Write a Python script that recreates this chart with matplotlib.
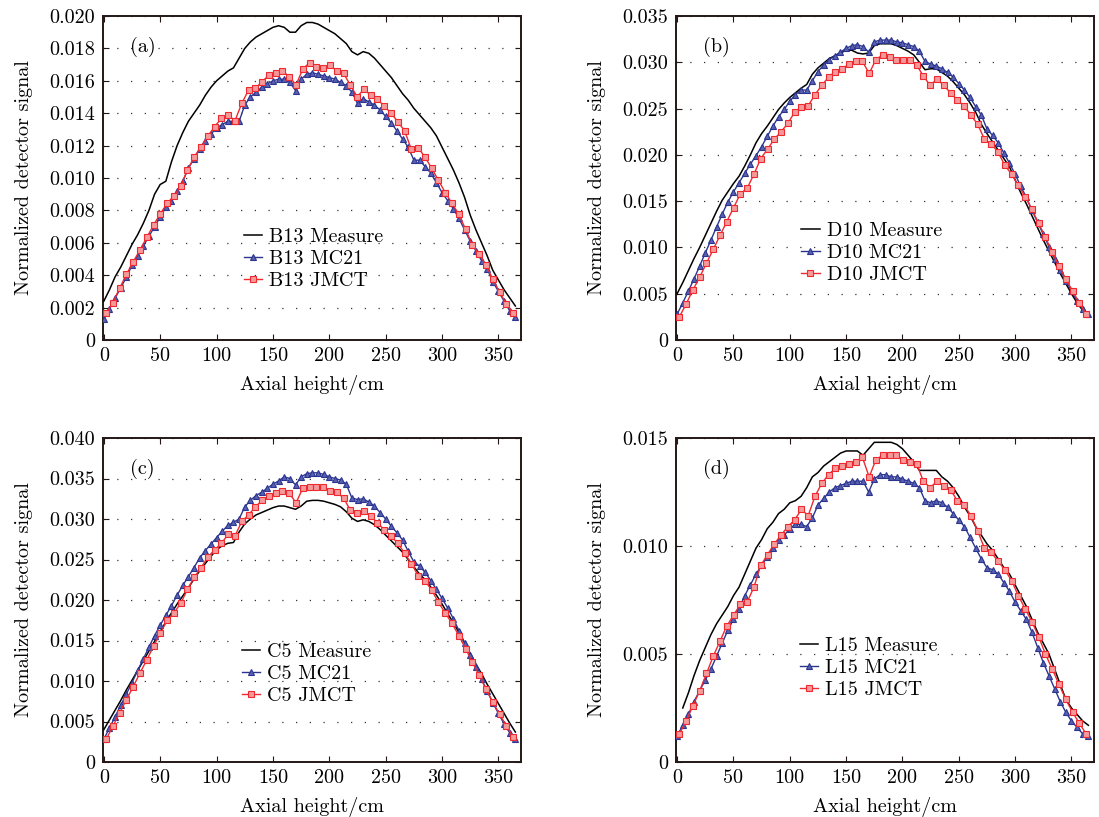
import numpy as np
import matplotlib
matplotlib.use("Agg")
import matplotlib.pyplot as plt
from matplotlib.lines import Line2D

plt.rcParams['font.family'] = ['cmr10', 'DejaVu Serif']
plt.rcParams['mathtext.fontset'] = 'cm'
plt.rcParams['axes.formatter.use_mathtext'] = True

# ---------------- data ----------------
x_step5 = np.arange(0, 366, 5)            # MC21 / measurement positions (cm)
x_meas_d = np.arange(5, 366, 5)           # measurement positions panel (d)
x_jmct = np.linspace(2, 363, 61)          # JMCT positions (cm)

meas_a = [0.0024, 0.0031, 0.0039, 0.0045, 0.0052, 0.0059, 0.0065, 0.0072, 0.0080, 0.0090,
          0.0096, 0.0098, 0.0110, 0.0120, 0.0128, 0.0135, 0.0140, 0.0145, 0.0151, 0.0156,
          0.0160, 0.0163, 0.0166, 0.0168, 0.0174, 0.0180, 0.0184, 0.0187, 0.0189, 0.0191,
          0.0193, 0.0194, 0.0193, 0.0190, 0.0190, 0.0194, 0.0196, 0.0196, 0.0195, 0.0193,
          0.0191, 0.0189, 0.0186, 0.0183, 0.0178, 0.0176, 0.0178, 0.0177, 0.0174, 0.0170,
          0.0166, 0.0162, 0.0157, 0.0152, 0.0148, 0.0143, 0.0139, 0.0135, 0.0131, 0.0126,
          0.0119, 0.0112, 0.0105, 0.0097, 0.0088, 0.0077, 0.0068, 0.0060, 0.0052, 0.0043,
          0.0037, 0.0031, 0.0026, 0.0021]
mc21_a = [0.0013, 0.0019, 0.0026, 0.0032, 0.0039, 0.0046, 0.0052, 0.0058, 0.0064, 0.0070,
          0.0076, 0.0082, 0.0086, 0.0092, 0.0098, 0.0106, 0.0112, 0.0118, 0.0123, 0.0127,
          0.0131, 0.0133, 0.0135, 0.0135, 0.0135, 0.0145, 0.0150, 0.0153, 0.0156, 0.0158,
          0.0160, 0.0161, 0.0161, 0.0159, 0.0154, 0.0161, 0.0164, 0.0165, 0.0164, 0.0163,
          0.0162, 0.0161, 0.0159, 0.0157, 0.0153, 0.0146, 0.0149, 0.0147, 0.0145, 0.0142,
          0.0138, 0.0134, 0.0129, 0.0124, 0.0119, 0.0111, 0.0111, 0.0107, 0.0103, 0.0097,
          0.0091, 0.0086, 0.0081, 0.0075, 0.0068, 0.0061, 0.0055, 0.0049, 0.0044, 0.0036,
          0.0030, 0.0024, 0.0018, 0.0014]
jmct_a = [0.00165, 0.0023, 0.0032, 0.00405, 0.00483, 0.00556, 0.00633, 0.0071, 0.0078, 0.00843,
          0.0089, 0.0095, 0.01049, 0.0113, 0.01193, 0.01259, 0.01317, 0.01368, 0.01389, 0.01354,
          0.0146, 0.01543, 0.01554, 0.01594, 0.01636, 0.0165, 0.0166, 0.01626, 0.01574, 0.01673,
          0.01712, 0.01683, 0.01677, 0.01698, 0.0166, 0.01646, 0.01574, 0.01502, 0.01547, 0.01512,
          0.01486, 0.01444, 0.0140, 0.01348, 0.01292, 0.01177, 0.01187, 0.0113, 0.0106, 0.00985,
          0.0091, 0.00843, 0.00776, 0.00683, 0.00586, 0.0053, 0.00463, 0.00375, 0.00298, 0.00222,
          0.00169]

meas_b = [0.0050, 0.0062, 0.0075, 0.0088, 0.0100, 0.0113, 0.0126, 0.0139, 0.0151, 0.0160,
          0.0169, 0.0177, 0.0188, 0.0200, 0.0213, 0.0223, 0.0231, 0.0240, 0.0249, 0.0256,
          0.0262, 0.0267, 0.0272, 0.0276, 0.0287, 0.0294, 0.0299, 0.0304, 0.0307, 0.0310,
          0.0313, 0.0313, 0.0310, 0.0309, 0.0310, 0.0318, 0.0320, 0.0320, 0.0320, 0.0318,
          0.0315, 0.0312, 0.0308, 0.0300, 0.0292, 0.0293, 0.0293, 0.0289, 0.0285, 0.0279,
          0.0272, 0.0265, 0.0256, 0.0246, 0.0233, 0.0223, 0.0214, 0.0205, 0.0196, 0.0187,
          0.0173, 0.0159, 0.0147, 0.0134, 0.0121, 0.0108, 0.0096, 0.0084, 0.0072, 0.0061,
          0.0050, 0.0040, 0.0032, 0.0027]
mc21_b = [0.0028, 0.0040, 0.0053, 0.0066, 0.0080, 0.0094, 0.0108, 0.0122, 0.0136, 0.0149,
          0.0160, 0.0170, 0.0180, 0.0190, 0.0199, 0.0209, 0.0220, 0.0231, 0.0241, 0.0249,
          0.0258, 0.0265, 0.0270, 0.0270, 0.0280, 0.0290, 0.0297, 0.0303, 0.0307, 0.0311,
          0.0315, 0.0318, 0.0319, 0.0317, 0.0311, 0.0322, 0.0324, 0.0324, 0.0324, 0.0322,
          0.0321, 0.0319, 0.0317, 0.0312, 0.0301, 0.0298, 0.0296, 0.0293, 0.0289, 0.0284,
          0.0277, 0.0270, 0.0262, 0.0252, 0.0243, 0.0228, 0.0221, 0.0213, 0.0202, 0.0191,
          0.0179, 0.0166, 0.0154, 0.0140, 0.0127, 0.0114, 0.0101, 0.0088, 0.0076, 0.0064,
          0.0053, 0.0042, 0.0033, 0.0028]
jmct_b = [0.0025, 0.0039, 0.0054, 0.0068, 0.0083, 0.0098, 0.0113, 0.0128, 0.0143, 0.0158,
          0.0164, 0.0179, 0.0196, 0.0206, 0.0217, 0.0225, 0.0234, 0.0246, 0.0252, 0.0253,
          0.0265, 0.0275, 0.0284, 0.0290, 0.0293, 0.0298, 0.0301, 0.0301, 0.0288, 0.0303,
          0.0308, 0.0306, 0.0303, 0.0303, 0.0303, 0.0297, 0.0285, 0.0275, 0.0282, 0.0275,
          0.0267, 0.0259, 0.0253, 0.0243, 0.0233, 0.0217, 0.0212, 0.0203, 0.0189, 0.0179,
          0.0167, 0.0155, 0.0141, 0.0126, 0.0111, 0.0095, 0.0080, 0.0066, 0.0053, 0.0040,
          0.0028]

meas_c = [0.0040, 0.0052, 0.0064, 0.0076, 0.0089, 0.0101, 0.0113, 0.0125, 0.0137, 0.0149,
          0.0161, 0.0173, 0.0184, 0.0195, 0.0205, 0.0215, 0.0226, 0.0236, 0.0245, 0.0254,
          0.0262, 0.0267, 0.0270, 0.0271, 0.0284, 0.0294, 0.0300, 0.0305, 0.0308, 0.0311,
          0.0314, 0.0316, 0.0316, 0.0314, 0.0312, 0.0316, 0.0322, 0.0323, 0.0323, 0.0322,
          0.0320, 0.0318, 0.0315, 0.0309, 0.0301, 0.0297, 0.0299, 0.0297, 0.0293, 0.0287,
          0.0280, 0.0273, 0.0266, 0.0259, 0.0250, 0.0241, 0.0232, 0.0225, 0.0216, 0.0206,
          0.0195, 0.0183, 0.0172, 0.0160, 0.0147, 0.0134, 0.0121, 0.0109, 0.0096, 0.0084,
          0.0072, 0.0060, 0.0048, 0.0037]
mc21_c = [0.0028, 0.0042, 0.0056, 0.0070, 0.0084, 0.0098, 0.0113, 0.0127, 0.0142, 0.0156,
          0.0169, 0.0181, 0.0193, 0.0206, 0.0218, 0.0229, 0.0240, 0.0252, 0.0261, 0.0269,
          0.0277, 0.0285, 0.0292, 0.0296, 0.0300, 0.0315, 0.0323, 0.0329, 0.0333, 0.0338,
          0.0343, 0.0347, 0.0352, 0.0350, 0.0342, 0.0352, 0.0356, 0.0357, 0.0357, 0.0355,
          0.0352, 0.0350, 0.0348, 0.0343, 0.0326, 0.0324, 0.0325, 0.0321, 0.0316, 0.0308,
          0.0300, 0.0291, 0.0283, 0.0274, 0.0260, 0.0247, 0.0242, 0.0234, 0.0224, 0.0213,
          0.0202, 0.0190, 0.0177, 0.0162, 0.0147, 0.0132, 0.0117, 0.0102, 0.0088, 0.0073,
          0.0060, 0.0047, 0.0036, 0.0029]
jmct_c = [0.0028, 0.0044, 0.0061, 0.0077, 0.0093, 0.0110, 0.0126, 0.0143, 0.0159, 0.0175,
          0.0184, 0.0196, 0.0213, 0.0228, 0.0240, 0.0253, 0.0262, 0.0270, 0.0281, 0.0279,
          0.0297, 0.0305, 0.0315, 0.0323, 0.0328, 0.0332, 0.0334, 0.0332, 0.0320, 0.0338,
          0.0339, 0.0339, 0.0339, 0.0335, 0.0333, 0.0326, 0.0311, 0.0308, 0.0310, 0.0304,
          0.0295, 0.0287, 0.0279, 0.0270, 0.0258, 0.0245, 0.0230, 0.0224, 0.0212, 0.0197,
          0.0184, 0.0171, 0.0156, 0.0140, 0.0123, 0.0107, 0.0090, 0.0074, 0.0059, 0.0045,
          0.0031]

meas_d = [0.0025, 0.0032, 0.0040, 0.0047, 0.0053, 0.0059, 0.0064, 0.0068, 0.0072, 0.0077,
          0.0081, 0.0087, 0.0093, 0.0099, 0.0103, 0.0108, 0.0111, 0.0115, 0.0117, 0.0120,
          0.0121, 0.0123, 0.0127, 0.0132, 0.0134, 0.0137, 0.0139, 0.0141, 0.0143, 0.0144,
          0.0144, 0.0144, 0.0142, 0.0145, 0.0148, 0.0148, 0.0148, 0.0148, 0.0147, 0.0145,
          0.0142, 0.0139, 0.0135, 0.0135, 0.0135, 0.0135, 0.0132, 0.0130, 0.0127, 0.0123,
          0.0118, 0.0114, 0.0109, 0.0105, 0.0101, 0.0098, 0.0094, 0.0090, 0.0087, 0.0082,
          0.0077, 0.0072, 0.0066, 0.0060, 0.0055, 0.0050, 0.0043, 0.0036, 0.0029, 0.0025,
          0.0022, 0.0019, 0.0017]
mc21_d = [0.0012, 0.0017, 0.0022, 0.0028, 0.0033, 0.0038, 0.0043, 0.0049, 0.0055, 0.0061,
          0.0066, 0.0071, 0.0077, 0.0082, 0.0087, 0.0091, 0.0095, 0.0099, 0.0103, 0.0105,
          0.0108, 0.0110, 0.0110, 0.0109, 0.0113, 0.0119, 0.0122, 0.0125, 0.0127, 0.0128,
          0.0129, 0.0130, 0.0130, 0.0130, 0.0125, 0.0131, 0.0133, 0.0133, 0.0132, 0.0132,
          0.0131, 0.0130, 0.0129, 0.0127, 0.0121, 0.0120, 0.0121, 0.0120, 0.0118, 0.0115,
          0.0112, 0.0109, 0.0104, 0.0099, 0.0094, 0.0090, 0.0089, 0.0087, 0.0083, 0.0079,
          0.0074, 0.0070, 0.0066, 0.0060, 0.0053, 0.0046, 0.0040, 0.0034, 0.0028, 0.0023,
          0.0019, 0.0016, 0.0013, 0.0012]
jmct_d = [0.0013, 0.0019, 0.0026, 0.0033, 0.0041, 0.0049, 0.0056, 0.0063, 0.0068, 0.0073,
          0.0074, 0.0081, 0.0091, 0.0096, 0.0101, 0.0105, 0.0109, 0.0112, 0.0117, 0.0114,
          0.0123, 0.0129, 0.0133, 0.0136, 0.0137, 0.0138, 0.0139, 0.0141, 0.0132, 0.0140,
          0.0142, 0.0142, 0.0142, 0.0140, 0.0139, 0.0138, 0.0130, 0.0127, 0.0130, 0.0128,
          0.0126, 0.0121, 0.0119, 0.0114, 0.0107, 0.0099, 0.0097, 0.0093, 0.0089, 0.0084,
          0.0077, 0.0071, 0.0065, 0.0058, 0.0050, 0.0043, 0.0036, 0.0029, 0.0023, 0.0018,
          0.0013]

x_ticks = [0, 50, 100, 150, 200, 250, 300, 350]
yticks_a = [0, 0.002, 0.004, 0.006, 0.008, 0.010, 0.012, 0.014, 0.016, 0.018, 0.020]
ylabels_a = ['0', '0.002', '0.004', '0.006', '0.008', '0.010', '0.012', '0.014', '0.016', '0.018', '0.020']
yticks_b = [0, 0.005, 0.010, 0.015, 0.020, 0.025, 0.030, 0.035]
ylabels_b = ['0', '0.005', '0.010', '0.015', '0.020', '0.025', '0.030', '0.035']
yticks_c = [0, 0.005, 0.010, 0.015, 0.020, 0.025, 0.030, 0.035, 0.040]
ylabels_c = ['0', '0.005', '0.010', '0.015', '0.020', '0.025', '0.030', '0.035', '0.040']
yticks_d = [0, 0.005, 0.010, 0.015]
ylabels_d = ['0', '0.005', '0.010', '0.015']

panels = [
    dict(tag='(a)', name='B13', meas_x=x_step5, meas=meas_a, mc=mc21_a, jm=jmct_a,
         yt=yticks_a, yl=ylabels_a, leg=(0.338, 0.25)),
    dict(tag='(b)', name='D10', meas_x=x_step5, meas=meas_b, mc=mc21_b, jm=jmct_b,
         yt=yticks_b, yl=ylabels_b, leg=(0.300, 0.268)),
    dict(tag='(c)', name='C5', meas_x=x_step5, meas=meas_c, mc=mc21_c, jm=jmct_c,
         yt=yticks_c, yl=ylabels_c, leg=(0.333, 0.272)),
    dict(tag='(d)', name='L15', meas_x=x_meas_d, meas=meas_d, mc=mc21_d, jm=jmct_d,
         yt=yticks_d, yl=ylabels_d, leg=(0.297, 0.29)),
]

# ---------------- styling ----------------
W, H = 1099, 817
fig = plt.figure(figsize=(W / 100, H / 100), dpi=100)
boxes = [(102.7, 16, 521, 340), (676, 16, 1094, 340),
         (102.7, 438, 521, 762), (676, 438, 1094, 762)]

blue = '#2B3590'
blue_face = '#5860B0'
red = '#EE2A30'
red_face = '#F59A9A'
spine_col = '#231815'
FS = 14.5

for p, (l, t, r, b) in zip(panels, boxes):
    ax = fig.add_axes([l / W, 1 - b / H, (r - l) / W, (b - t) / H])
    ax.plot(p['meas_x'], p['meas'], color='black', lw=1.1, zorder=3)
    ax.plot(x_step5, p['mc'], color=blue, lw=1.0, marker='^', ms=5,
            mfc=blue_face, mec=blue, mew=0.8, zorder=4)
    ax.plot(x_jmct, p['jm'], color=red, lw=1.0, marker='s', ms=3.8,
            mfc=red_face, mec=red, mew=0.8, zorder=5)

    ax.set_xlim(-1, 370)
    ax.set_ylim(p['yt'][0], p['yt'][-1])
    ax.set_xticks(x_ticks)
    ax.set_xticklabels([str(v) for v in x_ticks])
    ax.set_yticks(p['yt'])
    ax.set_yticklabels(p['yl'])
    ax.tick_params(direction='in', top=True, right=True, length=4, width=0.8,
                   labelsize=FS, colors=spine_col, labelcolor='black')
    ax.tick_params(axis='y', pad=5.5)
    ax.tick_params(axis='x', pad=5)
    for s in ax.spines.values():
        s.set_linewidth(1.4)
        s.set_color(spine_col)
    ax.yaxis.grid(True, linestyle=(0, (1, 10)), color='#333333', lw=0.9)
    ax.xaxis.grid(False)
    ax.set_xlabel('Axial height/cm', fontsize=FS, labelpad=7)
    ax.set_ylabel('Normalized detector signal', fontsize=FS, labelpad=12)
    ax.text(0.065, 0.905, p['tag'], transform=ax.transAxes, fontsize=FS,
            ha='left', va='center')

    handles = [
        Line2D([], [], color='black', lw=1.1),
        Line2D([], [], color=blue, lw=1.0, marker='^', ms=5, mfc=blue_face, mec=blue, mew=0.8),
        Line2D([], [], color=red, lw=1.0, marker='s', ms=3.8, mfc=red_face, mec=red, mew=0.8),
    ]
    labels = [p['name'] + ' Measure', p['name'] + ' MC21', p['name'] + ' JMCT']
    ax.legend(handles, labels, loc='center left', bbox_to_anchor=p['leg'],
              frameon=False, fontsize=FS, handlelength=0.9, handletextpad=0.35,
              labelspacing=0.2, borderpad=0, borderaxespad=0)

fig.savefig('out.png', dpi=100)
